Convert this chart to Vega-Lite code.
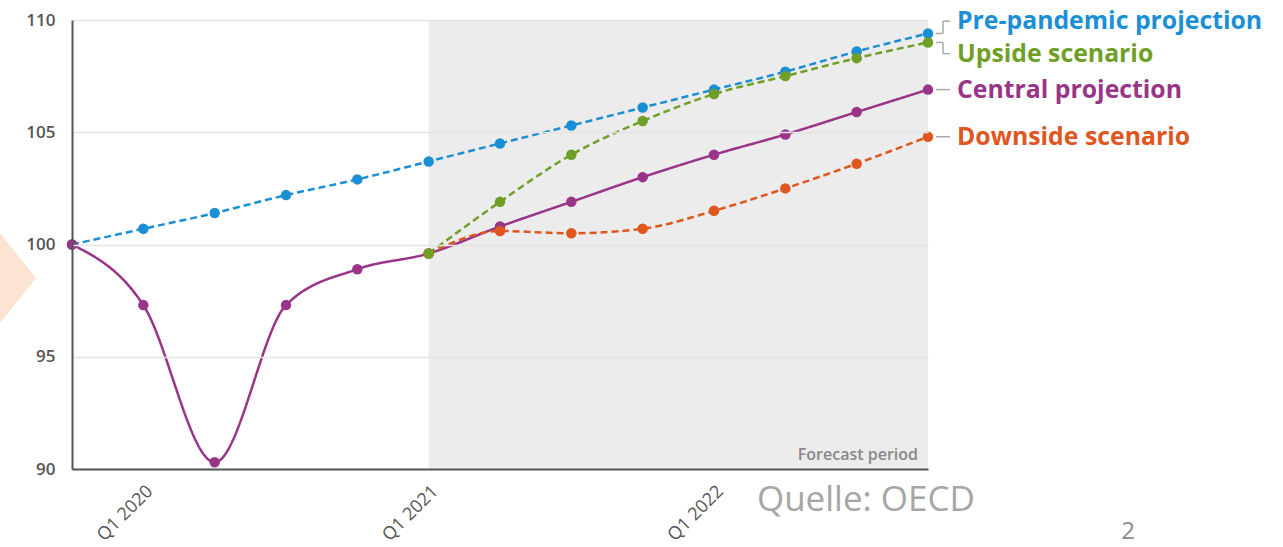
{
  "$schema": "https://vega.github.io/schema/vega-lite/v6.json",
  "width": 856,
  "height": 449,
  "autosize": {"type": "none"},
  "padding": {"left": 72, "top": 20, "right": 355, "bottom": 78},
  "background": "white",
  "config": {
    "font": "Open Sans",
    "view": {"stroke": null},
    "axis": {"labelFont": "Open Sans", "labelColor": "#555555"}
  },
  "datasets": {
    "series": [
      {"series": "Pre-pandemic projection", "t": 0, "value": 100},
      {"series": "Pre-pandemic projection", "t": 1, "value": 100.7},
      {"series": "Pre-pandemic projection", "t": 2, "value": 101.4},
      {"series": "Pre-pandemic projection", "t": 3, "value": 102.2},
      {"series": "Pre-pandemic projection", "t": 4, "value": 102.9},
      {"series": "Pre-pandemic projection", "t": 5, "value": 103.7},
      {"series": "Pre-pandemic projection", "t": 6, "value": 104.5},
      {"series": "Pre-pandemic projection", "t": 7, "value": 105.3},
      {"series": "Pre-pandemic projection", "t": 8, "value": 106.1},
      {"series": "Pre-pandemic projection", "t": 9, "value": 106.9},
      {"series": "Pre-pandemic projection", "t": 10, "value": 107.7},
      {"series": "Pre-pandemic projection", "t": 11, "value": 108.6},
      {"series": "Pre-pandemic projection", "t": 12, "value": 109.4},
      {"series": "Central projection", "t": 0, "value": 100},
      {"series": "Central projection", "t": 1, "value": 97.3},
      {"series": "Central projection", "t": 2, "value": 90.3},
      {"series": "Central projection", "t": 3, "value": 97.3},
      {"series": "Central projection", "t": 4, "value": 98.9},
      {"series": "Central projection", "t": 5, "value": 99.6},
      {"series": "Central projection", "t": 6, "value": 100.8},
      {"series": "Central projection", "t": 7, "value": 101.9},
      {"series": "Central projection", "t": 8, "value": 103.0},
      {"series": "Central projection", "t": 9, "value": 104.0},
      {"series": "Central projection", "t": 10, "value": 104.9},
      {"series": "Central projection", "t": 11, "value": 105.9},
      {"series": "Central projection", "t": 12, "value": 106.9},
      {"series": "Downside scenario", "t": 5, "value": 99.6},
      {"series": "Downside scenario", "t": 6, "value": 100.6},
      {"series": "Downside scenario", "t": 7, "value": 100.5},
      {"series": "Downside scenario", "t": 8, "value": 100.7},
      {"series": "Downside scenario", "t": 9, "value": 101.5},
      {"series": "Downside scenario", "t": 10, "value": 102.5},
      {"series": "Downside scenario", "t": 11, "value": 103.6},
      {"series": "Downside scenario", "t": 12, "value": 104.8},
      {"series": "Upside scenario", "t": 5, "value": 99.6},
      {"series": "Upside scenario", "t": 6, "value": 101.9},
      {"series": "Upside scenario", "t": 7, "value": 104.0},
      {"series": "Upside scenario", "t": 8, "value": 105.5},
      {"series": "Upside scenario", "t": 9, "value": 106.7},
      {"series": "Upside scenario", "t": 10, "value": 107.5},
      {"series": "Upside scenario", "t": 11, "value": 108.3},
      {"series": "Upside scenario", "t": 12, "value": 109.0}
    ]
  },
  "data": {"name": "series"},
  "encoding": {
    "x": {
      "field": "t", "type": "quantitative",
      "scale": {"domain": [0, 12], "nice": false, "zero": false},
      "axis": {
        "title": null, "values": [1, 5, 9],
        "labelExpr": "'Q1 ' + (2020 + (datum.value - 1) / 4)",
        "labelAngle": -45, "labelFontSize": 18, "labelPadding": 13,
        "grid": false, "domainColor": "#555555", "domainWidth": 2,
        "ticks": false, "zindex": 1
      }
    },
    "y": {
      "field": "value", "type": "quantitative",
      "scale": {"domain": [90, 110], "nice": false, "zero": false},
      "axis": {
        "title": null, "values": [90, 95, 100, 105, 110],
        "labelFontSize": 17, "labelFontWeight": 600, "labelPadding": 17,
        "grid": true, "gridColor": "#e4e4e4", "gridWidth": 1.5,
        "domainColor": "#555555", "domainWidth": 2,
        "ticks": false, "zindex": 1
      }
    }
  },
  "layer": [
    {
      "data": {"values": [{"t": -0.505, "value": 98.5}]},
      "mark": {"type": "point", "shape": "M0,0L-2,-2.5L-2,2.5Z", "filled": true, "size": 5184, "color": "#fde3d1", "opacity": 1, "strokeWidth": 0}
    },
    {
      "data": {"values": [{"start": 5, "end": 12, "low": 90, "high": 110}]},
      "mark": {"type": "rect", "color": "#000000", "opacity": 0.075},
      "encoding": {
        "x": {"field": "start", "type": "quantitative"},
        "x2": {"field": "end"},
        "y": {"field": "low", "type": "quantitative"},
        "y2": {"field": "high"}
      }
    },
    {
      "data": {"values": [{"tick": 90}, {"tick": 95}, {"tick": 100}, {"tick": 105}, {"tick": 110}]},
      "mark": {"type": "rule", "color": "#555555", "strokeWidth": 2, "x2Offset": 10},
      "encoding": {
        "x": {"datum": 0}, "x2": {"datum": 0},
        "y": {"field": "tick", "type": "quantitative"}
      }
    },
    {
      "data": {"values": [{"tick": 1}, {"tick": 5}, {"tick": 9}]},
      "mark": {"type": "rule", "color": "#555555", "strokeWidth": 2, "y2Offset": -9},
      "encoding": {
        "x": {"field": "tick", "type": "quantitative"},
        "y": {"datum": 90}, "y2": {"datum": 90}
      }
    },
    {
      "data": {"values": [{"note": "Forecast period", "t": 12, "value": 90}]},
      "mark": {"type": "text", "align": "right", "baseline": "middle", "dx": -10, "dy": -14, "fontSize": 16, "fontWeight": 600, "color": "#888888"},
      "encoding": {"text": {"field": "note"}}
    },
    {
      "mark": {"type": "line", "interpolate": "monotone", "strokeWidth": 2.5},
      "encoding": {
        "color": {
          "field": "series", "type": "nominal", "legend": null,
          "scale": {
            "domain": ["Pre-pandemic projection", "Upside scenario", "Central projection", "Downside scenario"],
            "range": ["#1b8fd6", "#6f9f27", "#993489", "#e0561f"]
          }
        },
        "strokeDash": {
          "field": "series", "type": "nominal", "legend": null,
          "scale": {
            "domain": ["Pre-pandemic projection", "Upside scenario", "Central projection", "Downside scenario"],
            "range": [[7, 4], [7, 4], [1, 0], [7, 4]]
          }
        }
      }
    },
    {
      "mark": {"type": "point", "filled": true, "size": 110, "opacity": 1},
      "encoding": {
        "color": {"field": "series", "type": "nominal", "legend": null}
      }
    },
    {
      "data": {"values": [
        {"series": "Pre-pandemic projection", "t": 12, "value": 109.4, "labelValue": 109.95},
        {"series": "Upside scenario", "t": 12, "value": 109.0, "labelValue": 108.5},
        {"series": "Central projection", "t": 12, "value": 106.9, "labelValue": 106.9},
        {"series": "Downside scenario", "t": 12, "value": 104.8, "labelValue": 104.8}
      ]},
      "layer": [
        {
          "mark": {"type": "rule", "color": "#aaaaaa", "strokeWidth": 1.5, "xOffset": 8, "x2Offset": 15},
          "encoding": {
            "x2": {"field": "t"},
            "y": {"field": "value", "type": "quantitative"}
          }
        },
        {
          "mark": {"type": "rule", "color": "#aaaaaa", "strokeWidth": 1.5, "xOffset": 15},
          "encoding": {
            "y": {"field": "value", "type": "quantitative"},
            "y2": {"field": "labelValue"}
          }
        },
        {
          "mark": {"type": "rule", "color": "#aaaaaa", "strokeWidth": 1.5, "xOffset": 15, "x2Offset": 22},
          "encoding": {
            "x2": {"field": "t"},
            "y": {"field": "labelValue", "type": "quantitative"}
          }
        },
        {
          "mark": {"type": "text", "align": "left", "baseline": "middle", "dx": 29, "dy": 1, "fontSize": 24.8, "fontWeight": "bold"},
          "encoding": {
            "y": {"field": "labelValue", "type": "quantitative"},
            "text": {"field": "series"},
            "color": {"field": "series", "type": "nominal", "legend": null}
          }
        }
      ]
    },
    {
      "data": {"values": [{"note": "Quelle: OECD", "t": 12, "value": 90}]},
      "mark": {"type": "text", "align": "right", "baseline": "middle", "dx": 47, "dy": 31, "fontSize": 35, "color": "#a6a6a6"},
      "encoding": {"text": {"field": "note"}}
    },
    {
      "data": {"values": [{"note": "2", "t": 12, "value": 90}]},
      "mark": {"type": "text", "align": "center", "baseline": "alphabetic", "dx": 200, "dy": 70, "fontSize": 24, "color": "#8c8c8c"},
      "encoding": {"text": {"field": "note"}}
    }
  ]
}
